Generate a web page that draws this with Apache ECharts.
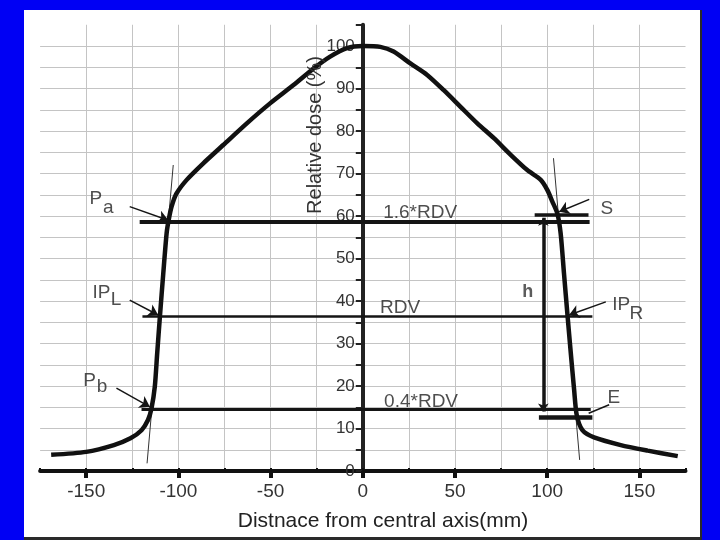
<!DOCTYPE html>
<html><head><meta charset="utf-8">
<script src="https://cdn.jsdelivr.net/npm/echarts@6/dist/echarts.min.js"></script>
<style>
html,body{margin:0;padding:0;background:#0000f4;width:720px;height:540px;overflow:hidden;}
#panel{position:absolute;left:24px;top:10px;width:676px;height:527px;background:#fff;border-right:2px solid #2a2a2a;border-bottom:3px solid #2a2a2a;}
#chart{position:absolute;left:0;top:0;width:720px;height:540px;}
</style></head><body>
<div id="panel"></div><div id="chart"></div>
<script>
// Dose profile (distance mm, relative dose %)
const profileX = [-169, -150, -135, -126, -120, -116.5, -114.6, -112.8, -111.5, -110, -108.2, -106.4, -105.3, -103.7, -101, -95.5, -86.5, -75.7, -62.9, -50.3, -37.6, -26.7, -17.7, -8.6, 0, 9.5, 16.7, 25.8, 34.9, 43.9, 53, 62.1, 71.1, 80.2, 89.2, 96.5, 100.1, 102.8, 105.5, 107.3, 109.1, 111, 112.8, 114.6, 116, 119.1, 125.4, 139.9, 154.5, 170.8];
const profileY = [3.8, 4.5, 6.1, 7.7, 9.6, 12, 14.7, 19.8, 27.7, 36.5, 46.5, 55.9, 59, 62.2, 65.3, 68.5, 72.4, 76.7, 81.8, 86.5, 90.8, 94.7, 97.5, 99.5, 100, 99.8, 98.7, 95.9, 93.2, 89.6, 85.7, 81.8, 78.3, 74.4, 70.8, 68.5, 66.1, 63.4, 60.6, 55.9, 46.5, 36.7, 27.7, 19.1, 13.2, 9.6, 7.9, 6.1, 4.8, 3.5];

// Axis tick labels
const xTickLabels = [-150, -100, -50, 0, 50, 100, 150];
const yTickLabels = [0, 10, 20, 30, 40, 50, 60, 70, 80, 90, 100];

// Reference level lines [name, x1, x2, level]
const levelLines = [
  ['1.6*RDV', -121, 123, 58.6],
  ['RDV', -119.5, 124.5, 36.5],
  ['0.4*RDV', -120, 123.6, 14.6],
  ['S', 93.2, 122.4, 60.2],
  ['E', 95.5, 124.5, 12.6]
];
// h span [x, top, bottom]
const hSpan = [97.9, 59.6, 14.0];
// Tangent lines [x1, y1, x2, y2]
const tangents = [
  [-102.8, 72, -117, 1.8],
  [103.4, 73.6, 117.6, 2.6]
];
// Pointer arrows [x1, y1, x2, y2]
const pointers = [
  [-126.4, 62.2, -105.5, 59],
  [-126.4, 40.2, -111, 36.7],
  [-133.6, 19.5, -115.5, 15.1],
  [122.8, 63.9, 106.5, 61],
  [131.8, 39.8, 111.9, 36.7]
];
const leaders = [
  [133.6, 15.6, 122.5, 13.6]
];
// Annotation texts [text, x, y]
const notes = [
  ['1.6*RDV', 31.1, 60.7],
  ['RDV', 20.2, 38.35],
  ['0.4*RDV', 31.6, 16.3],
  ['S', 132.4, 61.7],
  ['IP', 140.1, 39.1],
  ['R', 148.3, 37.1],
  ['E', 136.2, 17.2],
  ['P', -144.8, 64],
  ['a', -138, 62.0],
  ['IP', -141.7, 42],
  ['L', -133.8, 40.2],
  ['P', -148.2, 21.2],
  ['b', -141.4, 19.8]
];
const boldNotes = [['h', 89.5, 42.2]];

const FONT = 'Liberation Sans, Arial, sans-serif';
const levelWidths = { '1.6*RDV': 4, 'RDV': 2.6, '0.4*RDV': 3.2, 'S': 3.5, 'E': 4.5 };
const INK = '#151515';

const chart = echarts.init(document.getElementById('chart'), null, { renderer: 'canvas' });

const option = {
  animation: false,
  backgroundColor: 'transparent',
  grid: [
    { left: 40.1, right: 34.5, top: 24.75, bottom: 69 },
    { left: 86.2, right: 80.6, top: 24.75, bottom: 69 },
    { left: 362.8, right: 34.5, top: 24.75, bottom: 69 }
  ],
  xAxis: [
    {
      type: 'value', gridIndex: 0, min: -175, max: 175, interval: 25,
      axisLine: { show: true, onZero: true, lineStyle: { color: '#111', width: 4 } },
      axisTick: { show: true, inside: true, length: 3, lineStyle: { color: '#111', width: 2 } },
      axisLabel: { show: false },
      splitLine: { show: true, showMinLine: false, showMaxLine: false, lineStyle: { color: '#c4c4c4', width: 1 } }
    },
    {
      type: 'value', gridIndex: 1, min: -150, max: 150, interval: 50,
      axisLine: { show: false },
      axisTick: { show: true, inside: false, length: 7, lineStyle: { color: '#111', width: 4 } },
      axisLabel: {
        show: true, margin: 11, color: '#333', fontSize: 19, fontFamily: FONT,
        formatter: v => xTickLabels.indexOf(v) >= 0 ? String(v) : ''
      },
      splitLine: { show: false }
    },
    {
      type: 'value', gridIndex: 2, min: 0, max: 175, show: false
    }
  ],
  yAxis: [
    {
      type: 'value', gridIndex: 0, min: 0, max: 105, interval: 5,
      axisLine: { show: false }, axisTick: { show: false }, axisLabel: { show: false },
      splitLine: { show: true, showMinLine: false, showMaxLine: false, lineStyle: { color: '#c4c4c4', width: 1 } }
    },
    {
      type: 'value', gridIndex: 1, min: 0, max: 105, show: false
    },
    {
      type: 'value', gridIndex: 2, min: 0, max: 105, interval: 5, position: 'left',
      axisLine: { show: true, onZero: false, lineStyle: { color: '#222', width: 4 } },
      axisTick: { show: true, inside: false, length: 7, lineStyle: { color: '#222', width: 2 } },
      axisLabel: {
        show: true, margin: 8, color: '#333', fontSize: 17, fontFamily: FONT,
        formatter: v => yTickLabels.indexOf(v) >= 0 ? String(v) : ''
      },
      splitLine: { show: false }
    }
  ],
  graphic: [
    {
      type: 'text', x: 315, y: 135, rotation: Math.PI / 2, z: 10,
      style: { text: 'Relative dose (%)', fill: '#333', font: '20px ' + FONT, align: 'center', verticalAlign: 'middle' }
    },
    {
      type: 'text', x: 383, y: 521,
      style: { text: 'Distnace from central axis(mm)', fill: '#222', font: '21px ' + FONT, align: 'center', verticalAlign: 'middle' }
    }
  ],
  series: [
    {
      type: 'line', xAxisIndex: 0, yAxisIndex: 0, smooth: 0.25, symbol: 'none',
      data: profileX.map((x, i) => [x, profileY[i]]),
      lineStyle: { color: '#111', width: 4.5 }, z: 5
    },
    {
      type: 'lines', coordinateSystem: 'cartesian2d', xAxisIndex: 0, yAxisIndex: 0, z: 4,
      symbol: 'none',
      data: levelLines.map(l => ({ coords: [[l[1], l[3]], [l[2], l[3]]], lineStyle: { width: levelWidths[l[0]], color: INK, opacity: 1 } }))
    },
    {
      type: 'lines', coordinateSystem: 'cartesian2d', xAxisIndex: 0, yAxisIndex: 0, z: 4,
      symbol: ['arrow', 'arrow'], symbolSize: 8,
      lineStyle: { width: 3.5, color: INK, opacity: 1 },
      data: [{ coords: [[hSpan[0], hSpan[1]], [hSpan[0], hSpan[2]]] }]
    },
    {
      type: 'lines', coordinateSystem: 'cartesian2d', xAxisIndex: 0, yAxisIndex: 0, z: 3,
      symbol: 'none', lineStyle: { width: 1, color: '#333', opacity: 1 },
      data: tangents.map(t => ({ coords: [[t[0], t[1]], [t[2], t[3]]] }))
    },
    {
      type: 'lines', coordinateSystem: 'cartesian2d', xAxisIndex: 0, yAxisIndex: 0, z: 6,
      symbol: ['none', 'arrow'], symbolSize: 10, lineStyle: { width: 1.5, color: INK, opacity: 1 },
      data: pointers.map(t => ({ coords: [[t[0], t[1]], [t[2], t[3]]] }))
    },
    {
      type: 'lines', coordinateSystem: 'cartesian2d', xAxisIndex: 0, yAxisIndex: 0, z: 6,
      symbol: 'none', lineStyle: { width: 1.5, color: INK, opacity: 1 },
      data: leaders.map(t => ({ coords: [[t[0], t[1]], [t[2], t[3]]] }))
    },
    {
      type: 'scatter', xAxisIndex: 0, yAxisIndex: 0, symbolSize: 0, z: 7,
      itemStyle: { color: 'rgba(0,0,0,0)' },
      label: { show: true, position: [0, 0], align: 'center', verticalAlign: 'middle', formatter: '{b}', color: '#222', fontSize: 19, fontFamily: FONT },
      data: notes.map(n => ({ name: n[0], value: [n[1], n[2]] }))
    },
    {
      type: 'scatter', xAxisIndex: 0, yAxisIndex: 0, symbolSize: 0, z: 7,
      itemStyle: { color: 'rgba(0,0,0,0)' },
      label: { show: true, position: [0, 0], align: 'center', verticalAlign: 'middle', formatter: '{b}', color: '#333', fontSize: 18, fontWeight: 'bold', fontFamily: FONT },
      data: boldNotes.map(n => ({ name: n[0], value: [n[1], n[2]] }))
    }
  ]
};
chart.setOption(option);
</script>
</body></html>
